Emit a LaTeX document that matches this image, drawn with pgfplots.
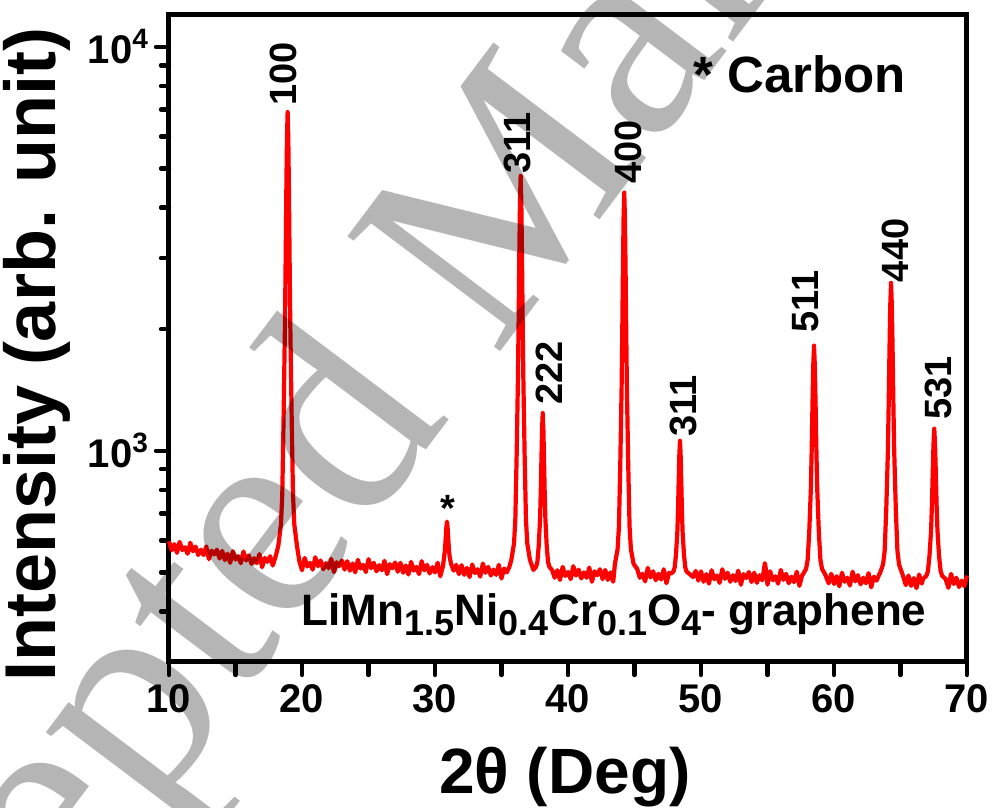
\documentclass[border=0pt]{standalone}
\usepackage{fontspec}
\setmainfont{Liberation Sans}
\newfontfamily\wm{Liberation Serif}
\usepackage{pgfplots}
\pgfplotsset{compat=1.18}
\newcommand\lab{\bfseries\fontsize{19}{19}\selectfont}
\newcommand\sub[1]{\raisebox{-0.42ex}{\fontsize{18}{18}\selectfont #1}}
\begin{document}
\begin{tikzpicture}
\begin{axis}[
  at={(84.5pt,73pt)}, anchor=south west,
  scale only axis, width=399pt, height=323.5pt,
  xmin=10, xmax=70, ymode=log, ymin=300, ymax=12000,
  clip=false,
  axis line style={line width=2.5pt},
  tick style={line width=2.2pt, black, line cap=round},
  major tick length=6.5pt, minor tick length=4pt,
  tick align=outside, xtick pos=bottom, ytick pos=left,
  xtick={10,15,...,70}, xticklabels={10,,20,,30,,40,,50,,60,,70},
  ytick={1000,10000}, yticklabels={10\textsuperscript{3},10\textsuperscript{4}},
  minor ytick={400,500,600,700,800,900,2000,3000,4000,5000,6000,7000,8000,9000},
  ticklabel style={font=\bfseries\fontsize{20}{20}\selectfont},
  xticklabel style={yshift=-1.5pt},
  xlabel={2θ (Deg)}, ylabel={Intensity (arb. unit)},
  every axis x label/.style={at={(axis description cs:0.496,-0.178)}, anchor=center, font=\bfseries\fontsize{32}{32}\selectfont},
  every axis y label/.style={at={(axis description cs:-0.166,0.475)}, anchor=center, rotate=90, font=\bfseries\fontsize{36}{36}\selectfont},
]
\addplot[red, line width=2.1pt, line join=round] coordinates {
(10.0,597)(10.2,567)(10.4,587)(10.6,559)(10.8,595)(11.0,568)(11.2,577)(11.4,556)(11.6,592)(11.8,564)
(12.0,579)(12.2,552)(12.4,569)(12.6,552)(12.8,580)(13.0,539)(13.2,566)(13.4,554)(13.6,569)(13.8,541)
(14.0,565)(14.2,536)(14.4,556)(14.6,528)(14.8,564)(15.0,538)(15.2,548)(15.4,527)(15.6,563)(15.8,535)
(16.0,551)(16.2,525)(16.4,542)(16.6,527)(16.8,555)(17.0,515)(17.2,543)(17.4,531)(17.6,548)(17.8,520)
(18.0,545)
(18.22,582)(18.42,658)(18.52,786)(18.62,1232)(18.72,2060)(18.77,2951)(18.82,4352)(18.87,5945)(18.92,6900)
(18.97,5945)(19.02,4352)(19.07,2951)(19.12,2060)(19.22,1232)(19.32,786)(19.42,658)(19.62,582)
(19.8,533)(20.0,506)(20.2,543)(20.4,517)(20.6,528)(20.8,508)(21.0,545)(21.2,518)(21.4,535)(21.6,509)
(21.8,527)(22.0,512)(22.2,540)(22.4,501)(22.6,530)(22.8,518)(23.0,535)(23.2,508)(23.4,533)(23.6,505)
(23.8,526)(24.0,500)(24.2,537)(24.4,511)(24.6,522)(24.8,501)(25.0,539)(25.2,512)(25.4,528)(25.6,503)
(25.8,521)(26.0,506)(26.2,534)(26.4,495)(26.6,524)(26.8,512)(27.0,529)(27.2,502)(27.4,528)(27.6,499)
(27.8,520)(28.0,494)(28.2,531)(28.4,505)(28.6,516)(28.8,495)(29.0,533)(29.2,506)(29.4,522)(29.6,497)
(29.8,515)(30.0,500)(30.2,528)(30.4,489)(30.6,518)
(30.75,569)(30.8,604)(30.85,644)(30.9,668)(30.95,644)(31.0,604)(31.05,569)(31.1,547)(31.2,526)
(31.4,505)(31.6,522)(31.8,495)(32.0,521)(32.2,493)(32.4,513)(32.6,487)(32.8,523)(33.0,498)(33.2,509)
(33.4,488)(33.6,526)(33.8,499)(34.0,516)(34.2,491)(34.4,508)(34.6,493)(34.8,522)(35.0,483)(35.2,511)
(35.4,500)(35.6,517)
(35.74,537)(35.94,589)(36.04,675)(36.14,975)(36.24,1533)(36.29,2134)(36.34,3078)(36.39,4151)(36.44,4795)
(36.49,4151)(36.54,3078)(36.59,2134)(36.64,1533)(36.74,975)(36.84,675)(36.94,589)(37.14,537)
(37.4,507)(37.6,516)(37.7,531)(37.8,582)(37.9,678)(37.95,782)(38.0,944)(38.05,1129)(38.1,1240)
(38.15,1129)(38.2,944)(38.25,782)(38.3,678)(38.4,582)(38.5,531)(38.6,516)(38.8,507)
(39.0,485)(39.2,506)(39.4,479)(39.6,516)(39.8,490)(40.0,501)(40.2,481)(40.4,518)(40.6,491)(40.8,508)
(41.0,483)(41.2,500)(41.4,485)(41.6,514)(41.8,474)(42.0,503)(42.2,492)(42.4,509)(42.6,481)(42.8,507)
(43.0,479)(43.2,500)(43.4,474)
(43.53,525)(43.73,571)(43.83,649)(43.93,919)(44.03,1422)(44.08,1963)(44.13,2813)(44.18,3779)(44.23,4359)
(44.28,3779)(44.33,2813)(44.38,1963)(44.43,1422)(44.53,919)(44.63,649)(44.73,571)(44.93,525)
(45.2,510)(45.4,485)(45.6,496)(45.8,475)(46.0,513)(46.2,486)(46.4,503)(46.6,478)(46.8,496)(47.0,480)
(47.2,509)(47.4,470)(47.6,499)
(47.72,496)(47.92,502)(48.02,514)(48.12,553)(48.22,627)(48.27,707)(48.32,832)(48.37,974)(48.42,1059)
(48.47,974)(48.52,832)(48.57,707)(48.62,627)(48.72,553)(48.82,514)(48.92,502)(49.12,496)
(49.4,487)(49.6,504)(49.8,477)(50.0,503)(50.2,474)(50.4,495)(50.6,469)(50.8,506)(51.0,481)(51.2,491)
(51.4,471)(51.6,509)(51.8,482)(52.0,499)(52.2,474)(52.4,492)(52.6,476)(52.8,505)(53.0,466)(53.2,495)
(53.4,484)(53.6,501)(53.8,473)(54.0,499)(54.2,471)(54.4,492)(54.6,478)(54.7,500)(54.8,527)(54.9,505)
(55.0,466)(55.2,503)(55.4,478)(55.6,489)(55.8,469)(56.0,507)(56.2,479)(56.4,496)(56.6,470)(56.8,488)
(57.0,473)(57.2,502)(57.4,463)(57.6,491)
(57.66,494)(57.9,510)(58.02,537)(58.14,630)(58.26,804)(58.32,992)(58.38,1286)(58.44,1621)(58.5,1822)
(58.56,1621)(58.62,1286)(58.68,992)(58.74,804)(58.86,630)(58.98,537)(59.1,510)(59.34,494)
(59.6,470)(59.8,496)(60.0,468)(60.2,489)(60.4,462)(60.6,499)(60.8,474)(61.0,485)(61.2,464)(61.4,502)
(61.6,475)(61.8,492)(62.0,467)(62.2,485)(62.4,470)(62.6,498)(62.8,459)(63.0,488)(63.2,477)(63.4,494)
(63.45,497)(63.69,523)(63.81,565)(63.93,714)(64.05,990)(64.11,1288)(64.17,1756)(64.23,2287)(64.29,2606)
(64.35,2287)(64.41,1756)(64.47,1288)(64.53,990)(64.65,714)(64.77,565)(64.89,523)(65.13,497)
(65.4,465)(65.6,491)(65.8,463)(66.0,484)(66.2,457)(66.4,494)(66.6,469)
(66.7,482)(66.94,490)(67.06,503)(67.18,549)(67.3,635)(67.36,727)(67.42,871)(67.48,1035)(67.54,1134)
(67.6,1035)(67.66,871)(67.72,727)(67.78,635)(67.9,549)(68.02,503)(68.14,490)(68.38,482)
(68.6,458)(68.8,496)(69.0,468)(69.2,485)(69.4,460)(69.6,477)(69.8,462)(70.0,491)
};
\node[rotate=90, anchor=west, inner sep=0pt, font=\lab] at (axis cs:18.57,7140) {100};
\node[rotate=90, anchor=west, inner sep=0pt, font=\lab] at (axis cs:36.17,4840) {311};
\node[rotate=90, anchor=west, inner sep=0pt, font=\lab] at (axis cs:38.57,1300) {222};
\node[rotate=90, anchor=west, inner sep=0pt, font=\lab] at (axis cs:44.51,4570) {400};
\node[rotate=90, anchor=west, inner sep=0pt, font=\lab] at (axis cs:48.65,1083) {311};
\node[rotate=90, anchor=west, inner sep=0pt, font=\lab] at (axis cs:57.89,1963) {511};
\node[rotate=90, anchor=west, inner sep=0pt, font=\lab] at (axis cs:64.59,2611) {440};
\node[rotate=90, anchor=west, inner sep=0pt, font=\lab] at (axis cs:67.82,1194) {531};
\node[inner sep=0pt, font=\lab] at (axis cs:30.98,722) {*};
\node[inner sep=0pt, font=\bfseries\fontsize{25.5}{25.5}\selectfont] at (axis cs:57.44,8570) {* Carbon};
\node[inner sep=0pt, font=\bfseries\fontsize{22}{22}\selectfont] at (axis cs:43.46,392) {LiMn\sub{1.5}Ni\sub{0.4}Cr\sub{0.1}O\sub{4}- graphene};
\end{axis}
\node[rotate=53, inner sep=0pt, text opacity=0.29, font=\wm\fontsize{146}{146}\selectfont] at (243pt,276.5pt) {Accepted Manuscript};
\pgfresetboundingbox
\path (0,0) rectangle (499pt,404pt);
\end{tikzpicture}
\end{document}
